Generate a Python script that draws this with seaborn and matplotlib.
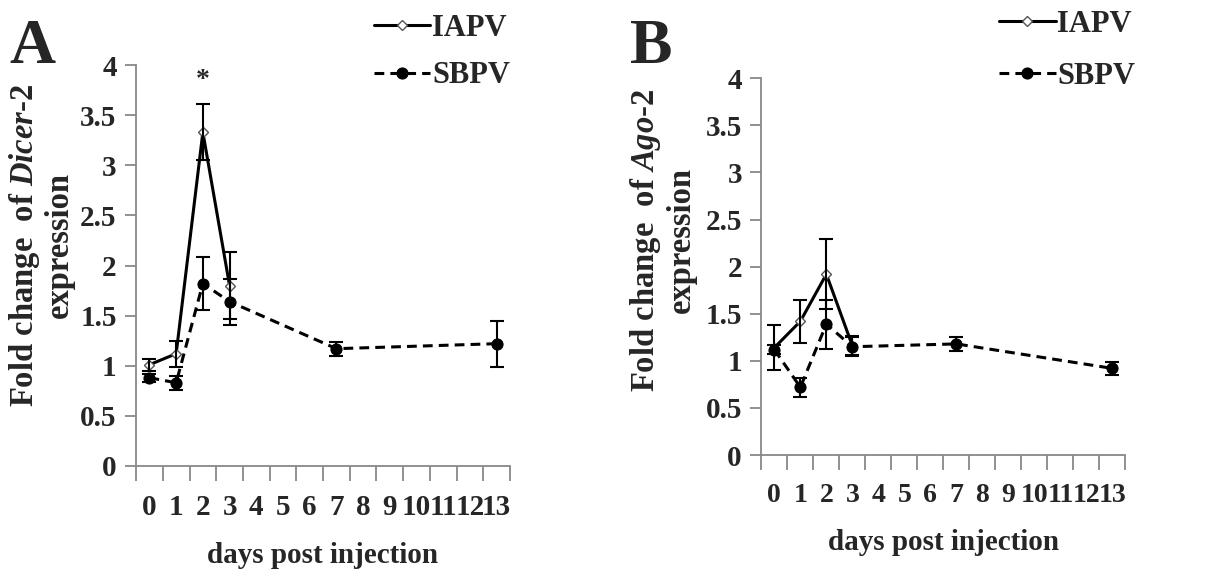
import numpy as np
import pandas as pd
import matplotlib
matplotlib.use("Agg")
import matplotlib.pyplot as plt
import seaborn as sns

# --- data ---
categories = [str(d) for d in range(14)]
days_iapv = [0, 1, 2, 3]
days_sbpv = [0, 1, 2, 3, 7, 13]

# panel A : Dicer-2
dicer_iapv = [1.01, 1.12, 3.33, 1.80]
dicer_iapv_err = [0.06, 0.13, 0.28, 0.33]
dicer_sbpv = [0.88, 0.83, 1.82, 1.64, 1.17, 1.22]
dicer_sbpv_err = [0.04, 0.07, 0.26, 0.23, 0.07, 0.23]

# panel B : Ago-2
ago_iapv = [1.14, 1.42, 1.92, 1.16]
ago_iapv_err = [0.24, 0.23, 0.37, 0.10]
ago_sbpv = [1.12, 0.72, 1.39, 1.15, 1.18, 0.92]
ago_sbpv_err = [0.05, 0.10, 0.26, 0.10, 0.07, 0.07]

sns.set_style("ticks")
plt.rcParams["font.family"] = ["Liberation Serif", "DejaVu Serif"]
plt.rcParams["font.weight"] = "bold"
plt.rcParams["mathtext.fontset"] = "custom"
plt.rcParams["mathtext.it"] = "Liberation Serif:italic:bold"
plt.rcParams["mathtext.rm"] = "Liberation Serif:bold"

fig = plt.figure(figsize=(12.26, 5.71), dpi=100)
axA = fig.add_axes([0.111, 0.184, 0.305, 0.702])
axB = fig.add_axes([0.621, 0.203, 0.297, 0.660])


def draw_panel(ax, iapv, iapv_err, sbpv, sbpv_err, gene, label_x, label_y,
               xtick_size):
    df_i = pd.DataFrame({"day": days_iapv, "fold": iapv})
    df_s = pd.DataFrame({"day": days_sbpv, "fold": sbpv})
    sns.lineplot(data=df_i, x="day", y="fold", ax=ax, color="black",
                 linewidth=2.2, marker="D", markersize=5,
                 markerfacecolor="white", markeredgecolor="#555555",
                 markeredgewidth=1.0, label="IAPV")
    sns.lineplot(data=df_s, x="day", y="fold", ax=ax, color="black",
                 linewidth=2.2, linestyle=(0, (3.2, 2.0)), marker="o",
                 markersize=8, markerfacecolor="black",
                 markeredgecolor="black", label="SBPV")
    ax.errorbar(days_iapv, iapv, yerr=iapv_err, fmt="none", ecolor="black",
                elinewidth=1.5, capsize=5, capthick=1.5)
    ax.errorbar(days_sbpv, sbpv, yerr=sbpv_err, fmt="none", ecolor="black",
                elinewidth=1.5, capsize=5, capthick=1.5)

    ax.set_xlim(-0.5, 13.5)
    ax.set_ylim(0, 4)
    ax.set_xticks(np.arange(-0.5, 14, 1.0))
    ax.set_xticklabels([])
    ax.set_xticks(np.arange(0, 14), minor=True)
    ax.set_xticklabels(categories, minor=True, fontsize=xtick_size,
                       fontweight="bold")
    ax.tick_params(axis="x", which="major", length=11, width=1.3,
                   color="#888888", direction="out")
    ax.tick_params(axis="x", which="minor", length=0, pad=20)
    ax.set_yticks(np.arange(0, 4.01, 0.5))
    ax.set_yticklabels(["%g" % v for v in np.arange(0, 4.01, 0.5)],
                       fontsize=21, fontweight="bold")
    ax.tick_params(axis="y", length=8, width=1.3, color="#888888", pad=6)
    for side in ["top", "right"]:
        ax.spines[side].set_visible(False)
    for side in ["left", "bottom"]:
        ax.spines[side].set_color("#888888")
        ax.spines[side].set_linewidth(1.3)

    ax.set_xlabel("days post injection", fontsize=21, fontweight="bold",
                  labelpad=15)
    ax.set_ylabel("Fold change  of $\\mathit{" + gene + "}$-$\\mathit{2}$\nexpression",
                  fontsize=23.5, fontweight="bold", linespacing=1.1)
    ax.yaxis.set_label_coords(label_x, label_y)


draw_panel(axA, dicer_iapv, dicer_iapv_err, dicer_sbpv, dicer_sbpv_err,
           "Dicer", -0.163, 0.55, 21)
draw_panel(axB, ago_iapv, ago_iapv_err, ago_sbpv, ago_sbpv_err,
           "Ago", -0.178, 0.57, 20)

# significance star
axA.text(2, 3.72, "*", ha="center", va="bottom", fontsize=20, fontweight="bold")

# legends
axA.legend(loc="upper left", bbox_to_anchor=(0.295, 0.997),
           bbox_transform=fig.transFigure, frameon=False, fontsize=22,
           handlelength=1.85, handletextpad=0.05, labelspacing=0.6,
           borderaxespad=0)
axB.legend(loc="upper left", bbox_to_anchor=(0.805, 1.004),
           bbox_transform=fig.transFigure, frameon=False, fontsize=22,
           handlelength=1.85, handletextpad=0.05, labelspacing=0.75,
           borderaxespad=0)

# panel letters
fig.text(0.008, 0.89, "A", fontsize=46, fontweight="bold")
fig.text(0.514, 0.89, "B", fontsize=46, fontweight="bold")

fig.savefig("out.png", dpi=100, facecolor="white")
